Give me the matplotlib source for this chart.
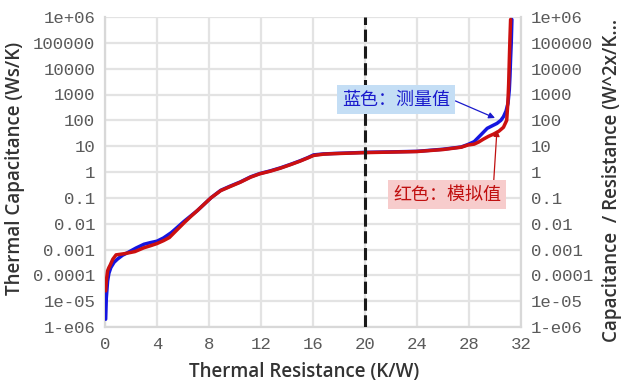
import numpy as np
import matplotlib
matplotlib.use("Agg")
import matplotlib.pyplot as plt
from matplotlib.ticker import FixedLocator, FixedFormatter

# ---------------- data ----------------
blue_R = [0.05, 0.1, 0.2, 0.3, 0.45, 0.7, 0.97, 1.35, 1.75, 2.4, 3.0, 3.5, 4.0, 4.5, 5.1, 5.6, 6.1,
          6.6, 7.1, 7.6, 8.15, 8.9, 9.6, 10.4, 11.2, 11.9, 12.7, 13.5, 14.3, 15.0, 15.6, 16.05,
          16.8, 17.6, 20.0, 22.0, 24.0, 26.0, 27.4, 27.9, 28.4, 28.9, 29.4, 29.8, 30.15, 30.45,
          30.65, 30.85, 31.0, 31.1, 31.15, 31.2, 31.25, 31.3]
blue_C = [2e-6, 1.3e-5, 6e-5, 1.2e-4, 2e-4, 3.2e-4, 4.3e-4, 6e-4, 7.6e-4, 1.15e-3, 1.6e-3, 1.85e-3,
          2.1e-3, 2.8e-3, 4.5e-3, 7.5e-3, 1.25e-2, 2e-2, 3.2e-2, 5.5e-2, 0.1, 0.195, 0.28, 0.41,
          0.65, 0.87, 1.1, 1.45, 2.0, 2.7, 3.6, 4.6, 5.0, 5.2, 5.75, 6.0, 6.3, 7.6, 9.3, 11.5,
          15, 27, 49, 62, 76, 100, 138, 230, 457, 1500, 5000, 2.5e4, 1e5, 8e5]

red_R = [0.05, 0.1, 0.2, 0.3, 0.4, 0.6, 0.85, 1.5, 2.3, 3.0, 3.5, 4.0, 4.5, 4.95, 5.5, 6.1, 6.6,
         7.1, 7.6, 8.15, 8.9, 9.6, 10.4, 11.2, 11.9, 12.7, 13.5, 14.3, 15.0, 15.6, 16.05, 16.8,
         17.6, 20.0, 22.0, 24.0, 26.0, 27.4, 27.9, 28.4, 28.75, 29.1, 29.5, 29.9, 30.3, 30.65,
         30.9, 31.0, 31.05, 31.1, 31.15, 31.2]
red_C = [2.5e-5, 6e-5, 1.5e-4, 2e-4, 2.5e-4, 4.2e-4, 6.2e-4, 6.9e-4, 8.3e-4, 1.17e-3, 1.4e-3, 1.7e-3,
         2.2e-3, 2.9e-3, 5.5e-3, 1.1e-2, 1.9e-2, 3.2e-2, 5.5e-2, 0.1, 0.19, 0.27, 0.4, 0.63, 0.85,
         1.07, 1.41, 1.95, 2.63, 3.5, 4.37, 4.9, 5.13, 5.62, 5.9, 6.2, 7.4, 9.1, 11.0, 12.0, 14.5,
         18.6, 24, 29.5, 38, 53.7, 100, 600, 2500, 2.1e4, 1.5e5, 8e5]

x_ticks = [0, 4, 8, 12, 16, 20, 24, 28, 32]
y_ticks = [1e-6, 1e-5, 1e-4, 1e-3, 1e-2, 1e-1, 1, 10, 100, 1000, 1e4, 1e5, 1e6]
y_tick_labels = ["1-e06", "1e-05", "0.0001", "0.001", "0.01", "0.1", "1", "10", "100",
                 "1000", "10000", "100000", "1e+06"]
marker_R = 20

x_label = "Thermal Resistance (K/W)"
y_label = "Thermal Capacitance (Ws/K)"
y2_label = "Capacitance  / Resistance (W^2x/K..."
blue_note = "蓝色：测量值"
red_note = "红色：模拟值"
blue_target = (30.0, 123)
red_target = (30.15, 42)

# ---------------- figure ----------------
W, H = 624, 384
fig = plt.figure(figsize=(W / 100, H / 100), dpi=100)
fig.patch.set_facecolor("white")

def fx(px):
    return px / W

def fy(py):
    return 1 - py / H

ax = fig.add_axes([fx(105), fy(327), fx(521) - fx(105), fy(17) - fy(327)])
ax.set_yscale("log")
ax.set_xlim(0, 32)
ax.set_ylim(1e-6, 1e6)

grid_col = "#e3e3e3"
ax.set_axisbelow(True)
ax.xaxis.set_major_locator(FixedLocator(x_ticks))
ax.yaxis.set_major_locator(FixedLocator(y_ticks))
ax.yaxis.set_minor_locator(FixedLocator([]))
ax.yaxis.set_major_formatter(FixedFormatter(y_tick_labels))
ax.grid(True, which="major", color=grid_col, linewidth=1.6)

mono = "Liberation Mono"
tick_col = "#5a5a5a"
for lab in ax.get_xticklabels() + ax.get_yticklabels():
    lab.set_fontfamily(mono)
    lab.set_fontsize(12.5)
    lab.set_color(tick_col)
ax.tick_params(axis="both", length=0, pad=7)
for s in ["left", "bottom", "right"]:
    ax.spines[s].set_color("#d8d8d8")
    ax.spines[s].set_linewidth(1.6)
ax.spines["top"].set_visible(False)

ax2 = ax.twinx()
ax2.set_yscale("log")
ax2.set_ylim(1e-6, 1e6)
ax2.yaxis.set_major_locator(FixedLocator(y_ticks))
ax2.yaxis.set_minor_locator(FixedLocator([]))
ax2.yaxis.set_major_formatter(FixedFormatter(y_tick_labels))
for lab in ax2.get_yticklabels():
    lab.set_fontfamily(mono)
    lab.set_fontsize(12.5)
    lab.set_color(tick_col)
ax2.tick_params(axis="y", length=0, pad=7)
for s in ax2.spines.values():
    s.set_visible(False)

# curves
ax.plot(blue_R, blue_C, color="#1515e0", lw=2.5, solid_joinstyle="round", solid_capstyle="round", zorder=3)
ax.plot(red_R, red_C, color="#cc1010", lw=2.5, solid_joinstyle="round", solid_capstyle="round", zorder=4)

# dashed marker
ax.axvline(marker_R, color="#1a1a1a", lw=2.2, linestyle=(0, (4, 1.5)), zorder=5)

# annotations (text placed in figure pixels, arrows point to data)
cjk = ["Noto Sans CJK SC", "DejaVu Sans"]
ax.annotate(blue_note, xy=blue_target, xytext=(396, H - 99.5), textcoords="figure pixels",
            ha="center", va="center", fontsize=13, color="#1a1acc", family=cjk,
            bbox=dict(boxstyle="square,pad=0.3", fc="#c4def5", ec="none"),
            arrowprops=dict(arrowstyle="-|>", color="#1a1acc", lw=0.9, mutation_scale=9,
                            shrinkA=0, shrinkB=0, relpos=(1.0, 0.55)), zorder=6)
ax.annotate(red_note, xy=red_target, xytext=(447, H - 194.5), textcoords="figure pixels",
            ha="center", va="center", fontsize=13, color="#c01010", family=cjk,
            bbox=dict(boxstyle="square,pad=0.3", fc="#f7cccc", ec="none"),
            arrowprops=dict(arrowstyle="-|>", color="#c01010", lw=0.9, mutation_scale=9,
                            shrinkA=0, shrinkB=0, relpos=(0.93, 1.0)), zorder=6)

# axis labels
lab_font = "Open Sans"
fig.text(fx(304), fy(372), x_label, ha="center", va="center", fontsize=13.5,
         family=lab_font, color="#333333", fontweight="semibold")
fig.text(fx(15), fy(168), y_label, ha="center", va="center", rotation=90, fontsize=13.5,
         family=lab_font, color="#333333", fontweight="semibold")
fig.text(fx(612), fy(180), y2_label, ha="center", va="center", rotation=90, fontsize=13.5,
         family=lab_font, color="#333333", fontweight="semibold")

fig.savefig("out.png", dpi=100)
